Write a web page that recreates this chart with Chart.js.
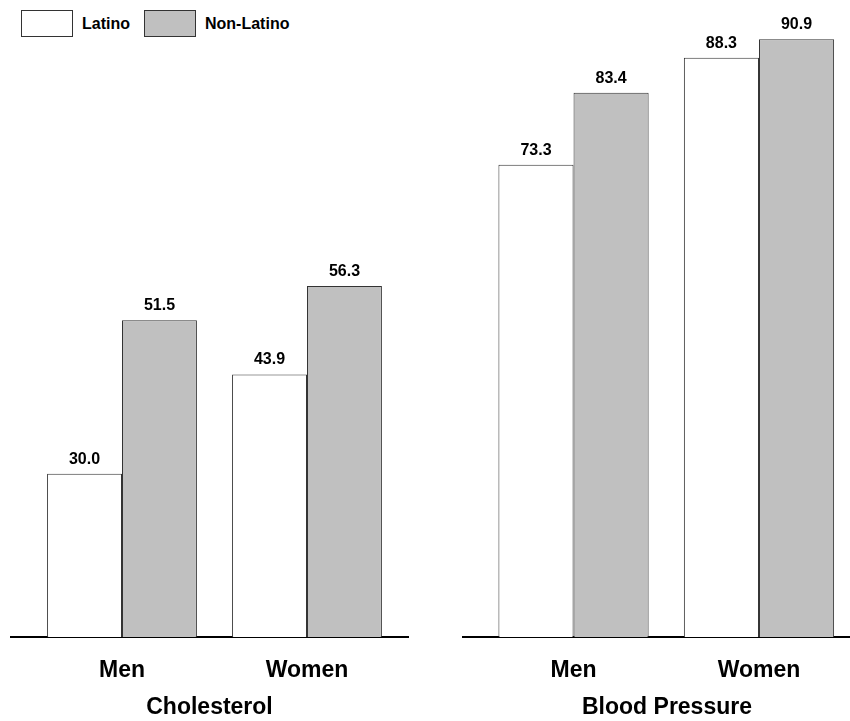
<!DOCTYPE html>
<html>
<head>
<meta charset="utf-8">
<script src="https://cdn.jsdelivr.net/npm/chart.js@4.4.1/dist/chart.umd.min.js"></script>
<style>
  html, body { margin: 0; padding: 0; background: #fff; overflow: hidden; }
  body { width: 850px; height: 721px; position: relative;
         font-family: 'Liberation Sans', Arial, sans-serif; }
  #cholChart { position: absolute; left: 0; top: 0; }
  #bpChart { position: absolute; left: 440px; top: 0; }
  .legend { position: absolute; left: 21px; top: 10px; display: flex; align-items: center;
            font-weight: bold; font-size: 16px; color: #000; }
  .swatch { width: 50px; height: 25px; border: 1px solid #333; }
  .swatch.latino { background: #fff; }
  .swatch.nonlatino { background: #c0c0c0; margin-left: 14px; }
  .legend span { margin-left: 9px; }
</style>
</head>
<body>
<div class="legend">
  <div class="swatch latino"></div><span>Latino</span>
  <div class="swatch nonlatino"></div><span>Non-Latino</span>
</div>
<canvas id="cholChart" width="425" height="721"></canvas>
<canvas id="bpChart" width="431" height="721"></canvas>
<script>
// groups and values (percent)
const groups = ['Men', 'Women'];
const cholLatino = [30.0, 43.9];
const cholNonLatino = [51.5, 56.3];
const bpLatino = [73.3, 88.3];
const bpNonLatino = [83.4, 90.9];

const FONT = "'Liberation Sans', Arial, sans-serif";

// prints each bar's value above it
const valueLabels = {
  id: 'valueLabels',
  afterDatasetsDraw(chart) {
    const ctx = chart.ctx;
    ctx.save();
    ctx.font = 'bold 16px ' + FONT;
    ctx.fillStyle = '#000';
    ctx.textAlign = 'center';
    ctx.textBaseline = 'alphabetic';
    chart.data.datasets.forEach((ds, i) => {
      chart.getDatasetMeta(i).data.forEach((bar, j) => {
        ctx.fillText(ds.data[j].y.toFixed(1), bar.x, bar.y - 10);
      });
    });
    ctx.restore();
  }
};

function toPoints(values) {
  return values.map((v, i) => ({ x: i, y: v }));
}

function makeChart(id, title, latino, nonLatino, xMin, xMax, padLeft, padRight) {
  return new Chart(document.getElementById(id), {
    type: 'bar',
    data: {
      datasets: [
        { label: 'Latino', data: toPoints(latino), backgroundColor: '#ffffff',
          borderColor: '#333', borderWidth: 1 },
        { label: 'Non-Latino', data: toPoints(nonLatino), backgroundColor: '#c0c0c0',
          borderColor: '#333', borderWidth: 1 }
      ]
    },
    options: {
      responsive: false,
      animation: false,
      categoryPercentage: 0.81,
      barPercentage: 1.0,
      layout: { padding: { left: padLeft, right: padRight, top: 0, bottom: 0 } },
      plugins: { legend: { display: false }, tooltip: { enabled: false } },
      scales: {
        x: {
          type: 'linear',
          offset: false,
          min: xMin,
          max: xMax,
          grid: { display: false, drawTicks: false, tickLength: 0 },
          border: { display: true, color: '#000', width: 2 },
          ticks: {
            stepSize: 1,
            includeBounds: false,
            autoSkip: false,
            maxRotation: 0,
            padding: 20,
            color: '#000',
            font: { family: FONT, size: 23, weight: 'bold' },
            callback: v => groups[v] || ''
          },
          title: {
            display: true,
            text: title,
            color: '#000',
            padding: { top: 0, bottom: 0 },
            font: { family: FONT, size: 23, weight: 'bold' }
          },
          afterFit: scale => { scale.height = 84; }
        },
        y: { display: false, min: 7.1, max: 96.4 }
      }
    },
    plugins: [valueLabels]
  });
}

makeChart('cholChart', 'Cholesterol', cholLatino, cholNonLatino, -0.6, 1.546, 11, 17);
makeChart('bpChart', 'Blood Pressure', bpLatino, bpNonLatino, -0.596, 1.604, 23, 0);
</script>
</body>
</html>
